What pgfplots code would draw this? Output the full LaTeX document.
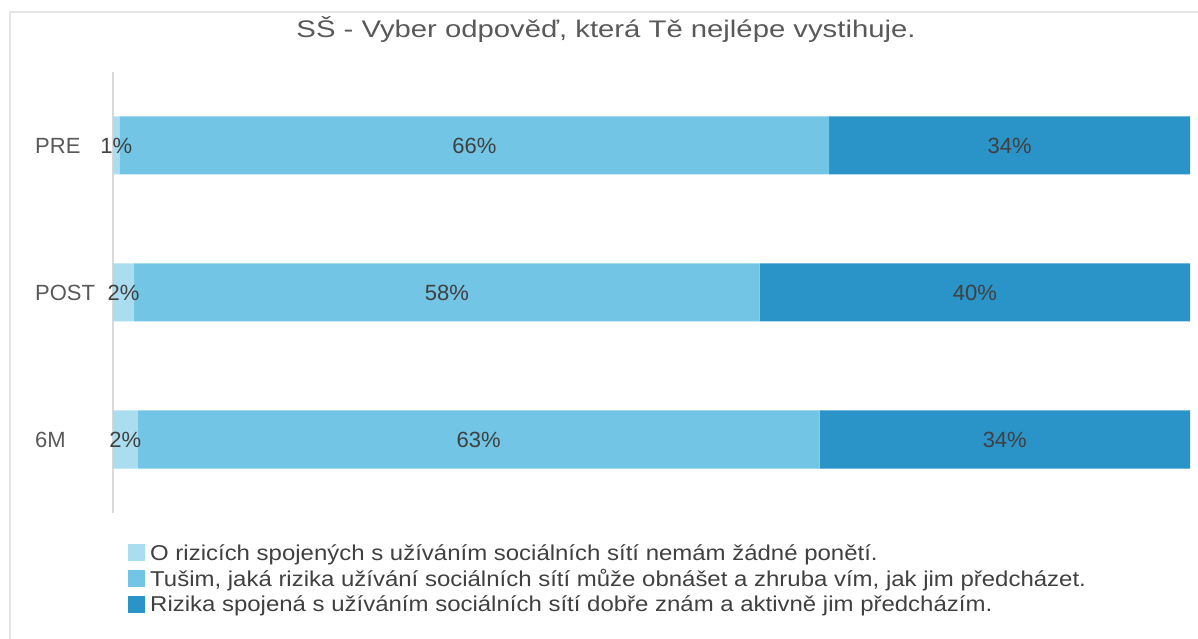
\documentclass[border=0pt]{standalone}
\usepackage{fontspec}
\setmainfont{Liberation Sans}
\usepackage{graphicx}
\usepackage{pgfplots}
\usepackage{pgfplotstable}
\pgfplotsset{compat=1.18}
\definecolor{cLight}{HTML}{AADDF0}
\definecolor{cMid}{HTML}{72C5E5}
\definecolor{cDark}{HTML}{2A93C7}
\definecolor{txt}{HTML}{404040}
\definecolor{tickc}{HTML}{595959}
\definecolor{framec}{HTML}{E6E6E6}
% y: 2=PRE, 1=POST, 0=6M
\pgfplotstableread{
y val lab
2 0.6 1
1 1.95 2
0 2.3 2
}\tA
\pgfplotstableread{
y val lab
2 65.9 66
1 58.1 58
0 63.3 63
}\tB
\pgfplotstableread{
y val lab
2 33.5 34
1 39.95 40
0 34.4 34
}\tC
\begin{document}
\begin{tikzpicture}
\useasboundingbox (-113pt,-126pt) rectangle (1085pt,513pt);
\draw[framec, line width=1.5pt] (-103pt,-130pt) -- (-103pt,501pt) -- (1090pt,501pt);
\begin{axis}[
  at={(0pt,0pt)}, anchor=south west,
  scale only axis, width=1077pt, height=441pt,
  xbar stacked, bar width=58pt,
  xmin=0, xmax=100, ymin=-0.5, ymax=2.5,
  axis x line=none, axis y line=left,
  y axis line style={draw=black!15, line width=1.5pt, -},
  ytick={0,1,2}, yticklabels={6M,POST,PRE},
  major tick length=0pt,
  yticklabel style={anchor=west, xshift=-78pt, inner sep=0pt,
    font=\fontsize{22pt}{26pt}\selectfont, text=tickc},
  point meta=explicit symbolic,
  nodes near coords={\pgfplotspointmeta\%},
  every node near coord/.append style={anchor=center,
    font=\fontsize{22pt}{26pt}\selectfont, text=txt, inner sep=0pt},
  title={\scalebox{1.22}[1]{SŠ - Vyber odpověď, která Tě nejlépe vystihuje.}},
  title style={at={(0.4578,1)}, anchor=base, yshift=28pt,
    font=\fontsize{24pt}{28pt}\selectfont, text=tickc},
  legend style={at={(0,0)}, anchor=north west, xshift=15pt, yshift=-29pt,
    draw=none, fill=none, inner sep=0pt,
    font=\fontsize{21.5pt}{25pt}\selectfont, text=txt,
    row sep=3.5pt, nodes={inner xsep=5pt}},
  legend cell align=left,
  legend image code/.code={\fill[#1] (0pt,-8.5pt) rectangle (17pt,8.5pt);},
]
\addplot[fill=cLight, draw=none] table[x=val, y=y, meta=lab] {\tA};
\addplot[fill=cMid, draw=none] table[x=val, y=y, meta=lab] {\tB};
\addplot[fill=cDark, draw=none] table[x=val, y=y, meta=lab] {\tC};
\addlegendentry{\scalebox{1.115}[1]{O rizicích spojených s užíváním sociálních sítí nemám žádné ponětí.}}
\addlegendentry{\scalebox{1.115}[1]{Tušim, jaká rizika užívání sociálních sítí může obnášet a zhruba vím, jak jim předcházet.}}
\addlegendentry{\scalebox{1.115}[1]{Rizika spojená s užíváním sociálních sítí dobře znám a aktivně jim předcházím.}}
\end{axis}
\end{tikzpicture}
\end{document}
